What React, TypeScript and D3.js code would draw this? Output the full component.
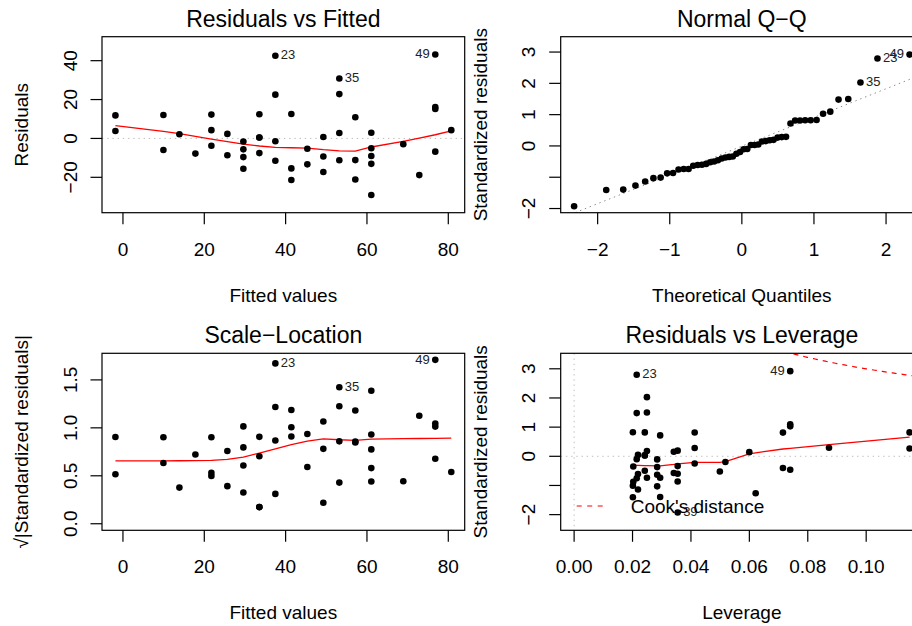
import React, { useEffect, useRef } from "react";
import * as d3 from "d3";

const WIDTH = 912;
const HEIGHT = 626;
const FONT = "'Liberation Sans', Arial, Helvetica, sans-serif";

// one entry per observation, 1..50
const fitted = [
  -1.849, -1.849, 9.948, 9.948, 13.88, 17.813, 21.745, 21.745, 21.745, 25.677,
  25.677, 29.61, 29.61, 29.61, 29.61, 33.542, 33.542, 33.542, 33.542, 37.475,
  37.475, 37.475, 37.475, 41.407, 41.407, 41.407, 45.339, 45.339, 49.272, 49.272,
  49.272, 53.204, 53.204, 53.204, 53.204, 57.137, 57.137, 57.137, 61.069, 61.069,
  61.069, 61.069, 61.069, 68.934, 72.866, 76.799, 76.799, 76.799, 76.799, 80.731,
];
const residuals = [
  3.849, 11.849, -5.948, 12.052, 2.12, -7.813, -3.745, 4.255, 12.255, -8.677,
  2.323, -15.61, -9.61, -5.61, -1.61, -7.542, 0.458, 0.458, 12.458, -11.475,
  -1.475, 22.525, 42.525, -21.407, -15.407, 12.593, -13.339, -5.339, -17.272, -9.272,
  0.728, -11.204, 2.796, 22.796, 30.796, -21.137, -11.137, 10.863, -29.069, -13.069,
  -9.069, -5.069, 2.931, -2.934, -18.866, -6.799, 15.201, 16.201, 43.201, 4.269,
];
const stdResiduals = [
  0.266, 0.819, -0.401, 0.813, 0.142, -0.521, -0.249, 0.283, 0.814, -0.574,
  0.154, -1.03, -0.634, -0.37, -0.106, -0.496, 0.03, 0.03, 0.82, -0.754,
  -0.097, 1.481, 2.795, -1.406, -1.012, 0.827, -0.876, -0.351, -1.136, -0.61,
  0.048, -0.738, 0.184, 1.501, 2.028, -1.395, -0.735, 0.717, -1.925, -0.865,
  -0.6, -0.336, 0.194, -0.196, -1.267, -0.459, 1.027, 1.095, 2.919, 0.291,
];
const sqrtAbsStdResiduals = [
  0.516, 0.905, 0.633, 0.902, 0.377, 0.722, 0.499, 0.532, 0.902, 0.758,
  0.392, 1.015, 0.796, 0.608, 0.326, 0.704, 0.173, 0.173, 0.906, 0.868,
  0.311, 1.217, 1.672, 1.186, 1.006, 0.909, 0.936, 0.592, 1.066, 0.781,
  0.219, 0.859, 0.429, 1.225, 1.424, 1.181, 0.857, 0.847, 1.387, 0.93,
  0.775, 0.58, 0.44, 0.443, 1.126, 0.677, 1.013, 1.046, 1.709, 0.539,
];
const leverage = [
  0.11486, 0.11486, 0.0715, 0.0715, 0.05997, 0.0499, 0.04128, 0.04128, 0.04128, 0.03413,
  0.03413, 0.02844, 0.02844, 0.02844, 0.02844, 0.0242, 0.0242, 0.0242, 0.0242, 0.02143,
  0.02143, 0.02143, 0.02143, 0.02012, 0.02012, 0.02012, 0.02026, 0.02026, 0.02187, 0.02187,
  0.02187, 0.02493, 0.02493, 0.02493, 0.02493, 0.02946, 0.02946, 0.02946, 0.03545, 0.03545,
  0.03545, 0.03545, 0.03545, 0.0518, 0.06216, 0.07399, 0.07399, 0.07399, 0.07399, 0.08727,
];

// normal quantiles, in rank order of the standardized residuals
const qqTheoretical = [
  -2.3263, -1.8808, -1.6449, -1.4758, -1.3408, -1.2265, -1.1264, -1.0364, -0.9542, -0.8779,
  -0.8064, -0.7388, -0.6745, -0.6128, -0.5534, -0.4959, -0.4399, -0.3853, -0.3319, -0.2793,
  -0.2275, -0.1764, -0.1257, -0.0753, -0.0251, 0.0251, 0.0753, 0.1257, 0.1764, 0.2275,
  0.2793, 0.3319, 0.3853, 0.4399, 0.4959, 0.5534, 0.6128, 0.6745, 0.7388, 0.8064,
  0.8779, 0.9542, 1.0364, 1.1264, 1.2265, 1.3408, 1.4758, 1.6449, 1.8808, 2.3263,
];
// reference line goes through the quartiles
const qqLineX = [-0.6745, 0.6745];
const qqLineY = [-0.628, 0.6105];

// red smoothers
const smoothFitted = [
  -1.849, 9.948, 13.88, 17.813, 21.745, 25.677, 29.61, 33.542, 37.475, 41.407,
  45.339, 49.272, 53.204, 57.137, 61.069, 68.934, 72.866, 76.799, 80.731,
];
const smoothResiduals = [
  6.6, 3.6, 2.5, 1.1, -0.3, -1.6, -2.9, -3.9, -4.6, -4.8,
  -5.0, -5.8, -6.4, -6.5, -4.4, -1.5, 0.2, 1.9, 3.9,
];
const smoothScale = [
  0.655, 0.656, 0.657, 0.659, 0.66, 0.672, 0.695, 0.737, 0.782, 0.824,
  0.861, 0.886, 0.876, 0.87, 0.882, 0.887, 0.889, 0.891, 0.893,
];
const smoothLeverageX = [
  0.02012, 0.02026, 0.02143, 0.02187, 0.0242, 0.02493, 0.02844, 0.02946, 0.03413, 0.03545,
  0.04128, 0.0499, 0.0518, 0.05997, 0.06216, 0.0715, 0.07399, 0.08727, 0.11486,
];
const smoothLeverage = [
  -0.3, -0.3, -0.31, -0.31, -0.32, -0.32, -0.33, -0.33, -0.28, -0.26,
  -0.21, -0.21, -0.18, 0.08, 0.12, 0.25, 0.27, 0.4, 0.66,
];

const cooksLevels = [0.5, 1];
const nCoef = 2;

const labelIds = [23, 35, 49];
const leverageLabelIds = [23, 49, 39];

const fittedTicks = [0, 20, 40, 60, 80];
const fittedTickLabels = ["0", "20", "40", "60", "80"];
const residualTicks = [-20, 0, 20, 40];
const residualTickLabels = ["\u221220", "0", "20", "40"];
const quantileTicks = [-2, -1, 0, 1, 2];
const quantileTickLabels = ["\u22122", "\u22121", "0", "1", "2"];
const stdTicks = [-2, -1, 0, 1, 2, 3];
const stdTickLabels = ["\u22122", "", "0", "1", "2", "3"];
const scaleTicks = [0, 0.5, 1, 1.5];
const scaleTickLabels = ["0.0", "0.5", "1.0", "1.5"];
const leverageTicks = [0, 0.02, 0.04, 0.06, 0.08, 0.1];
const leverageTickLabels = ["0.00", "0.02", "0.04", "0.06", "0.08", "0.10"];

// R style axis range padding
const extend = (ext: number[], f: number) => {
  const d = ext[1] - ext[0];
  return [ext[0] - f * d, ext[1] + f * d];
};

type Box = { left: number; right: number; top: number; bottom: number };

function drawPanel(svg: any, id: string, box: Box, x: any, y: any, cfg: any) {
  const g = svg.append("g");
  svg
    .append("clipPath")
    .attr("id", id)
    .append("rect")
    .attr("x", box.left)
    .attr("y", box.top)
    .attr("width", box.right - box.left)
    .attr("height", box.bottom - box.top);

  const inner = g.append("g").attr("clip-path", `url(#${id})`);

  g.append("rect")
    .attr("x", box.left)
    .attr("y", box.top)
    .attr("width", box.right - box.left)
    .attr("height", box.bottom - box.top)
    .attr("fill", "none")
    .attr("stroke", "black")
    .attr("stroke-width", 1.2);

  cfg.xTicks.forEach((t: number, i: number) => {
    g.append("line")
      .attr("x1", x(t))
      .attr("x2", x(t))
      .attr("y1", box.bottom)
      .attr("y2", box.bottom + 11.5)
      .attr("stroke", "black")
      .attr("stroke-width", 1.2);
    g.append("text")
      .attr("x", x(t))
      .attr("y", box.bottom + 43)
      .attr("text-anchor", "middle")
      .attr("font-size", 19)
      .text(cfg.xTickLabels[i]);
  });

  cfg.yTicks.forEach((t: number, i: number) => {
    g.append("line")
      .attr("x1", box.left - 11.5)
      .attr("x2", box.left)
      .attr("y1", y(t))
      .attr("y2", y(t))
      .attr("stroke", "black")
      .attr("stroke-width", 1.2);
    g.append("text")
      .attr("transform", `translate(${box.left - 25.5},${y(t)}) rotate(-90)`)
      .attr("text-anchor", "middle")
      .attr("font-size", 19)
      .text(cfg.yTickLabels[i]);
  });

  const cx = (box.left + box.right) / 2;
  g.append("text")
    .attr("x", cx)
    .attr("y", box.top - 10)
    .attr("text-anchor", "middle")
    .attr("font-size", 23)
    .text(cfg.title);
  g.append("text")
    .attr("x", cx)
    .attr("y", box.bottom + 89)
    .attr("text-anchor", "middle")
    .attr("font-size", 19)
    .text(cfg.xLabel);
  g.append("text")
    .attr("transform", `translate(${box.left - 74},${(box.top + box.bottom) / 2}) rotate(-90)`)
    .attr("text-anchor", "middle")
    .attr("font-size", 19)
    .text(cfg.yLabel);

  return { g, inner };
}

function drawPoints(g: any, xs: number[], ys: number[]) {
  g.selectAll(null)
    .data(xs)
    .enter()
    .append("circle")
    .attr("cx", (d: number) => d)
    .attr("cy", (_: number, i: number) => ys[i])
    .attr("r", 3.3)
    .attr("fill", "black");
}

function drawIds(g: any, ids: number[], xs: number[], ys: number[]) {
  const px = ids.map((id) => xs[id - 1]);
  const mid = (d3.min(px)! + d3.max(px)!) / 2;
  ids.forEach((id, k) => {
    const left = px[k] > mid;
    g.append("text")
      .attr("x", left ? px[k] - 5.5 : px[k] + 5.5)
      .attr("y", ys[id - 1] + 3.7)
      .attr("text-anchor", left ? "end" : "start")
      .attr("font-size", 13)
      .attr("fill", "#222")
      .text(id);
  });
}

function drawSmooth(g: any, xs: number[], ys: number[], x: any, y: any) {
  const line = d3
    .line<number>()
    .x((d) => x(d))
    .y((_, i) => y(ys[i]));
  g.append("path")
    .attr("d", line(xs))
    .attr("fill", "none")
    .attr("stroke", "#FF0000")
    .attr("stroke-width", 1.3);
}

function refLine(g: any, x1: number, y1: number, x2: number, y2: number, color: string) {
  g.append("line")
    .attr("x1", x1)
    .attr("y1", y1)
    .attr("x2", x2)
    .attr("y2", y2)
    .attr("stroke", color)
    .attr("stroke-width", 1)
    .attr("stroke-dasharray", "1.4,3.8");
}

const App = () => {
  const ref = useRef<SVGSVGElement>(null);

  useEffect(() => {
    const svg = d3.select(ref.current);
    svg.selectAll("*").remove();
    svg.attr("font-family", FONT);

    const tl = { left: 102, right: 464.7, top: 36.7, bottom: 212.7 };
    const tr = { left: 560.7, right: 923, top: 36.7, bottom: 212.7 };
    const bl = { left: 102, right: 464.7, top: 353.3, bottom: 530.3 };
    const br = { left: 560.7, right: 923, top: 353.3, bottom: 530.3 };

    // 1. Residuals vs Fitted
    const xFit = d3.scaleLinear().domain(extend(d3.extent(fitted) as number[], 0.04)).range([tl.left, tl.right]);
    const yRes = d3
      .scaleLinear()
      .domain(extend(extend(d3.extent(residuals) as number[], 0.08), 0.04))
      .range([tl.bottom, tl.top]);
    const p1 = drawPanel(svg, "clip1", tl, xFit, yRes, {
      title: "Residuals vs Fitted",
      xLabel: "Fitted values",
      yLabel: "Residuals",
      xTicks: fittedTicks,
      xTickLabels: fittedTickLabels,
      yTicks: residualTicks,
      yTickLabels: residualTickLabels,
    });
    refLine(p1.inner, tl.left, yRes(0), tl.right, yRes(0), "#BEBEBE");
    drawPoints(p1.g, fitted.map((d) => xFit(d)), residuals.map((d) => yRes(d)));
    drawSmooth(p1.inner, smoothFitted, smoothResiduals, xFit, yRes);
    drawIds(p1.g, labelIds, fitted.map((d) => xFit(d)), residuals.map((d) => yRes(d)));

    // 2. Normal Q-Q
    const order = d3.range(stdResiduals.length).sort((a, b) => stdResiduals[a] - stdResiduals[b]);
    const qqX: number[] = new Array(stdResiduals.length);
    order.forEach((obs, k) => (qqX[obs] = qqTheoretical[k]));
    const [rMin, rMax] = d3.extent(stdResiduals) as number[];
    const xQ = d3.scaleLinear().domain(extend(d3.extent(qqTheoretical) as number[], 0.04)).range([tr.left, tr.right]);
    const yQ = d3
      .scaleLinear()
      .domain(extend([rMin, rMax + 0.075 * (rMax - rMin)], 0.04))
      .range([tr.bottom, tr.top]);
    const p2 = drawPanel(svg, "clip2", tr, xQ, yQ, {
      title: "Normal Q\u2212Q",
      xLabel: "Theoretical Quantiles",
      yLabel: "Standardized residuals",
      xTicks: quantileTicks,
      xTickLabels: quantileTickLabels,
      yTicks: stdTicks,
      yTickLabels: stdTickLabels,
    });
    const slope = (qqLineY[1] - qqLineY[0]) / (qqLineX[1] - qqLineX[0]);
    const at = (v: number) => qqLineY[0] + slope * (v - qqLineX[0]);
    const [qx0, qx1] = xQ.domain();
    refLine(p2.inner, xQ(qx0), yQ(at(qx0)), xQ(qx1), yQ(at(qx1)), "#8A8A8A");
    drawPoints(p2.g, qqX.map((d) => xQ(d)), stdResiduals.map((d) => yQ(d)));
    drawIds(p2.g, labelIds, qqX.map((d) => xQ(d)), stdResiduals.map((d) => yQ(d)));

    // 3. Scale-Location
    const xFit2 = xFit.copy().range([bl.left, bl.right]);
    const ySL = d3
      .scaleLinear()
      .domain(extend([0, d3.max(sqrtAbsStdResiduals)!], 0.04))
      .range([bl.bottom, bl.top]);
    const p3 = drawPanel(svg, "clip3", bl, xFit2, ySL, {
      title: "Scale\u2212Location",
      xLabel: "Fitted values",
      yLabel: "\u221A|Standardized residuals|",
      xTicks: fittedTicks,
      xTickLabels: fittedTickLabels,
      yTicks: scaleTicks,
      yTickLabels: scaleTickLabels,
    });
    drawPoints(p3.g, fitted.map((d) => xFit2(d)), sqrtAbsStdResiduals.map((d) => ySL(d)));
    drawSmooth(p3.inner, smoothFitted, smoothScale, xFit2, ySL);
    drawIds(p3.g, labelIds, fitted.map((d) => xFit2(d)), sqrtAbsStdResiduals.map((d) => ySL(d)));

    // 4. Residuals vs Leverage
    const xL = d3
      .scaleLinear()
      .domain(extend([0, d3.max(leverage)!], 0.04))
      .range([br.left, br.right]);
    const yL = d3
      .scaleLinear()
      .domain(extend(extend(d3.extent(stdResiduals) as number[], 0.08), 0.04))
      .range([br.bottom, br.top]);
    const p4 = drawPanel(svg, "clip4", br, xL, yL, {
      title: "Residuals vs Leverage",
      xLabel: "Leverage",
      yLabel: "Standardized residuals",
      xTicks: leverageTicks,
      xTickLabels: leverageTickLabels,
      yTicks: stdTicks,
      yTickLabels: stdTickLabels,
    });
    refLine(p4.inner, br.left, yL(0), br.right, yL(0), "#BEBEBE");
    refLine(p4.inner, xL(0), br.top, xL(0), br.bottom, "#BEBEBE");

    // Cook's distance contours
    const hh = d3.range(0.002, xL.domain()[1] + 0.001, 0.0005);
    cooksLevels.forEach((lvl) => {
      [1, -1].forEach((s) => {
        const cook = d3
          .line<number>()
          .x((h) => xL(h))
          .y((h) => yL(s * Math.sqrt((lvl * nCoef * (1 - h)) / h)));
        p4.inner
          .append("path")
          .attr("d", cook(hh))
          .attr("fill", "none")
          .attr("stroke", "#FF0000")
          .attr("stroke-width", 1.2)
          .attr("stroke-dasharray", "5,5");
      });
    });

    drawPoints(p4.g, leverage.map((d) => xL(d)), stdResiduals.map((d) => yL(d)));
    drawSmooth(p4.inner, smoothLeverageX, smoothLeverage, xL, yL);
    drawIds(p4.g, leverageLabelIds, leverage.map((d) => xL(d)), stdResiduals.map((d) => yL(d)));

    // legend
    p4.g
      .append("line")
      .attr("x1", br.left + 16)
      .attr("x2", br.left + 46)
      .attr("y1", br.bottom - 24.3)
      .attr("y2", br.bottom - 24.3)
      .attr("stroke", "#FF0000")
      .attr("stroke-width", 1.2)
      .attr("stroke-dasharray", "5,5.5");
    p4.g
      .append("text")
      .attr("x", br.left + 70)
      .attr("y", br.bottom - 17)
      .attr("font-size", 19)
      .text("Cook's distance");
  }, []);

  return (
    <svg
      ref={ref}
      width={WIDTH}
      height={HEIGHT}
      style={{ position: "absolute", left: 0, top: 0, background: "white" }}
    />
  );
};

export default App;
